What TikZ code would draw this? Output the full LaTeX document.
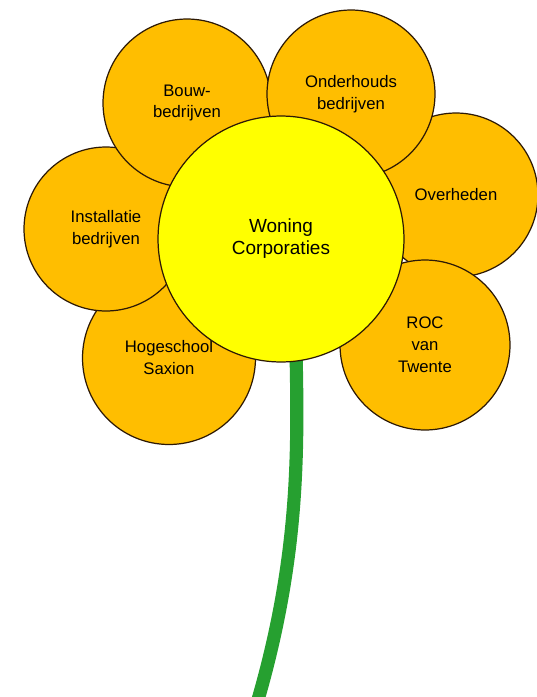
\documentclass[tikz,border=0pt]{standalone}
\usepackage{fontspec}
\setmainfont{Liberation Sans}
\definecolor{petalorange}{RGB}{255,190,0}
\definecolor{coreyellow}{RGB}{255,255,0}
\definecolor{stemgreen}{RGB}{38,160,48}
\definecolor{rimdark}{RGB}{45,25,5}
\tikzset{
  petal/.style={circle, draw=rimdark, line width=0.7pt, fill=petalorange, inner sep=0pt,
    align=center, font=\fontsize{9.5}{12.5}\selectfont},
  core/.style={circle, draw=rimdark, line width=0.7pt, fill=coreyellow, inner sep=0pt,
    align=center, font=\fontsize{10.8}{12.6}\selectfont},
  stem/.style={draw=stemgreen, line width=7.5pt}
}
\begin{document}
\begin{tikzpicture}[x=0.02cm, y=-0.02cm]
  \useasboundingbox (0,0) rectangle (537,697);
  \coordinate (stemtop) at (296,350);
  \coordinate (stemend) at (255,710);
  \draw[stem] (stemtop) .. controls (298,450) and (300,560) .. (stemend);
  % petals, back to front
  \node[petal, minimum size=3.46cm] (saxion) at (169,358) {Hogeschool\\Saxion};
  \node[petal, minimum size=3.28cm] (installatie) at (106,229) {Installatie\\bedrijven};
  \node[petal, minimum size=3.36cm] (bouw) at (187,103) {Bouw-\\bedrijven};
  \node[petal, minimum size=3.28cm] (overheden) at (456,195) {Overheden};
  \node[petal, minimum size=3.36cm] (onderhoud) at (351,94) {Onderhouds\\bedrijven};
  \node[petal, minimum size=3.40cm] (roc) at (425,345) {ROC\\van\\Twente};
  % heart of the flower
  \node[core, minimum size=4.92cm] (woning) at (281,239) {Woning\\Corporaties};
\end{tikzpicture}
\end{document}
